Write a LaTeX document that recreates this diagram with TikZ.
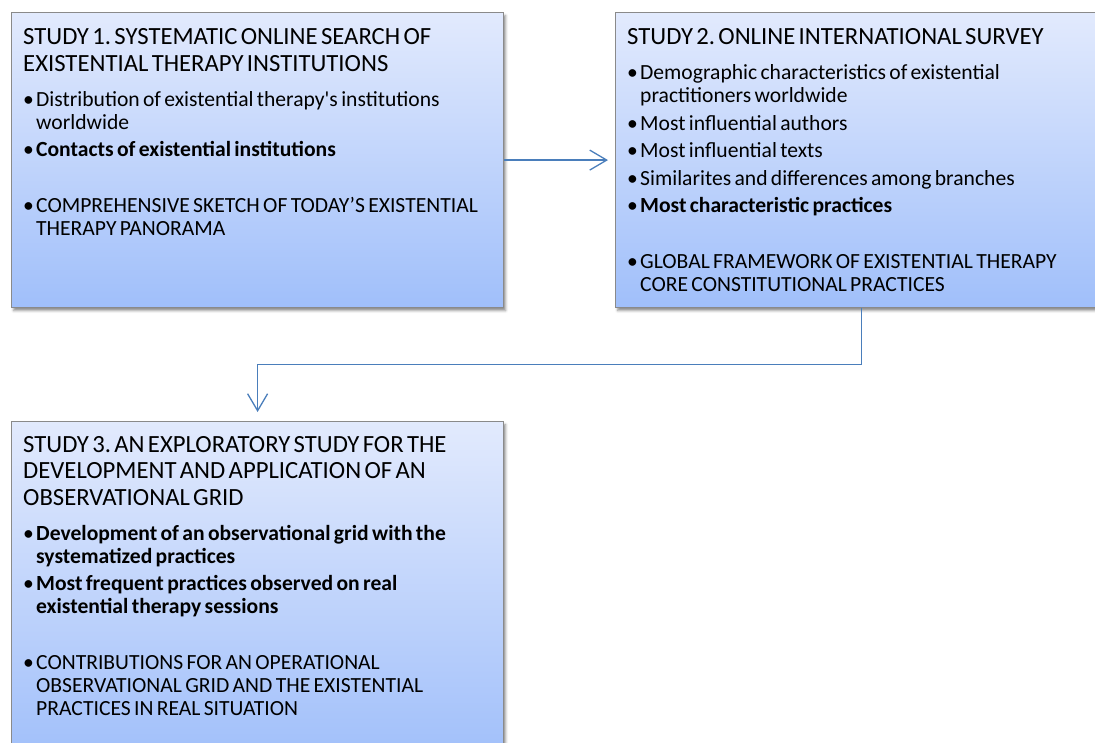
\documentclass[tikz,border=0pt]{standalone}
\usepackage{fontspec}
\setmainfont{Carlito}[Ligatures=TeXOff]
\usetikzlibrary{arrows.meta,calc,shadows.blur}

\definecolor{boxtop}{RGB}{226,234,253}
\definecolor{boxbottom}{RGB}{160,191,250}
\definecolor{boxline}{RGB}{138,138,138}
\definecolor{flowblue}{RGB}{74,126,187}

\newcommand{\studytitle}[1]{{\fontsize{24.7}{26.5}\selectfont #1\par}\vspace{7.5pt}}
\newcommand{\studyitem}[1]{{\fontsize{21.6}{23}\selectfont\hangindent=13pt\hangafter=1\noindent
  \makebox[13pt][l]{\textbullet}#1\par}}

\begin{document}
\begin{tikzpicture}[x=1pt,y=1pt]
			\useasboundingbox (0,0) rectangle (1095,-743);
			\clip (0,0) rectangle (1095,-743);
			\tikzstyle{StudyBox} = [draw=boxline, line width=1.2pt, top color=boxtop,
			  bottom color=boxbottom, minimum width=492pt, inner sep=0pt, anchor=north west,
			  blur shadow={shadow xshift=2pt, shadow yshift=-3pt, shadow blur radius=2.5pt, shadow opacity=45}]
			\tikzstyle{StudyText} = [anchor=base west, text width=480pt, align=left, inner sep=0pt,
			  execute at begin node={\frenchspacing\setlength{\parskip}{4.5pt}}]
			\tikzstyle{FlowArrow} = [draw=flowblue, line width=1.3pt,
			  -{Straight Barb[length=17pt,width=20pt,line width=1.3pt]}]

			\node[StudyBox, minimum height=295pt] (s1) at (11,-12) {};
			\node[StudyBox, minimum height=295pt] (s2) at (615,-12) {};
			\node[StudyBox, minimum height=340pt] (s3) at (11,-421) {};

			\node[StudyText] (t1) at ($(s1.north west)+(12,-33)$) {%
			  \studytitle{STUDY 1. SYSTEMATIC ONLINE SEARCH OF\newline EXISTENTIAL THERAPY INSTITUTIONS}
			  \studyitem{Distribution of existential therapy's institutions\newline worldwide}
			  \studyitem{\textbf{Contacts of existential institutions}}
			  \vspace{28.5pt}
			  \studyitem{COMPREHENSIVE SKETCH OF TODAY’S EXISTENTIAL\newline THERAPY PANORAMA}};
			\node[StudyText] (t2) at ($(s2.north west)+(12,-33)$) {%
			  \studytitle{STUDY 2. ONLINE INTERNATIONAL SURVEY}
			  \studyitem{Demographic characteristics of existential\newline practitioners worldwide}
			  \studyitem{Most influential authors}
			  \studyitem{Most influential texts}
			  \studyitem{Similarites and differences among branches}
			  \studyitem{\textbf{Most characteristic practices}}
			  \vspace{28.5pt}
			  \studyitem{GLOBAL FRAMEWORK OF EXISTENTIAL THERAPY\newline CORE CONSTITUTIONAL PRACTICES}};
			\node[StudyText] (t3) at ($(s3.north west)+(12,-31)$) {%
			  \studytitle{STUDY 3. AN EXPLORATORY STUDY FOR THE\newline DEVELOPMENT AND APPLICATION OF AN\newline OBSERVATIONAL GRID}
			  \studyitem{\textbf{Development of an observational grid with the\newline systematized practices}}
			  \studyitem{\textbf{Most frequent practices observed on real\newline existential therapy sessions}}
			  \vspace{28.5pt}
			  \studyitem{CONTRIBUTIONS FOR AN OPERATIONAL\newline OBSERVATIONAL GRID AND THE EXISTENTIAL\newline PRACTICES IN REAL SITUATION}};

			\draw[FlowArrow, shorten >=7pt] (s1.east) -- (s2.west);
			\draw[FlowArrow, shorten >=9pt] (s2.south) |- ($(s2.south)!0.5!(s3.north)$) -| (s3.north);
\end{tikzpicture}
\end{document}
